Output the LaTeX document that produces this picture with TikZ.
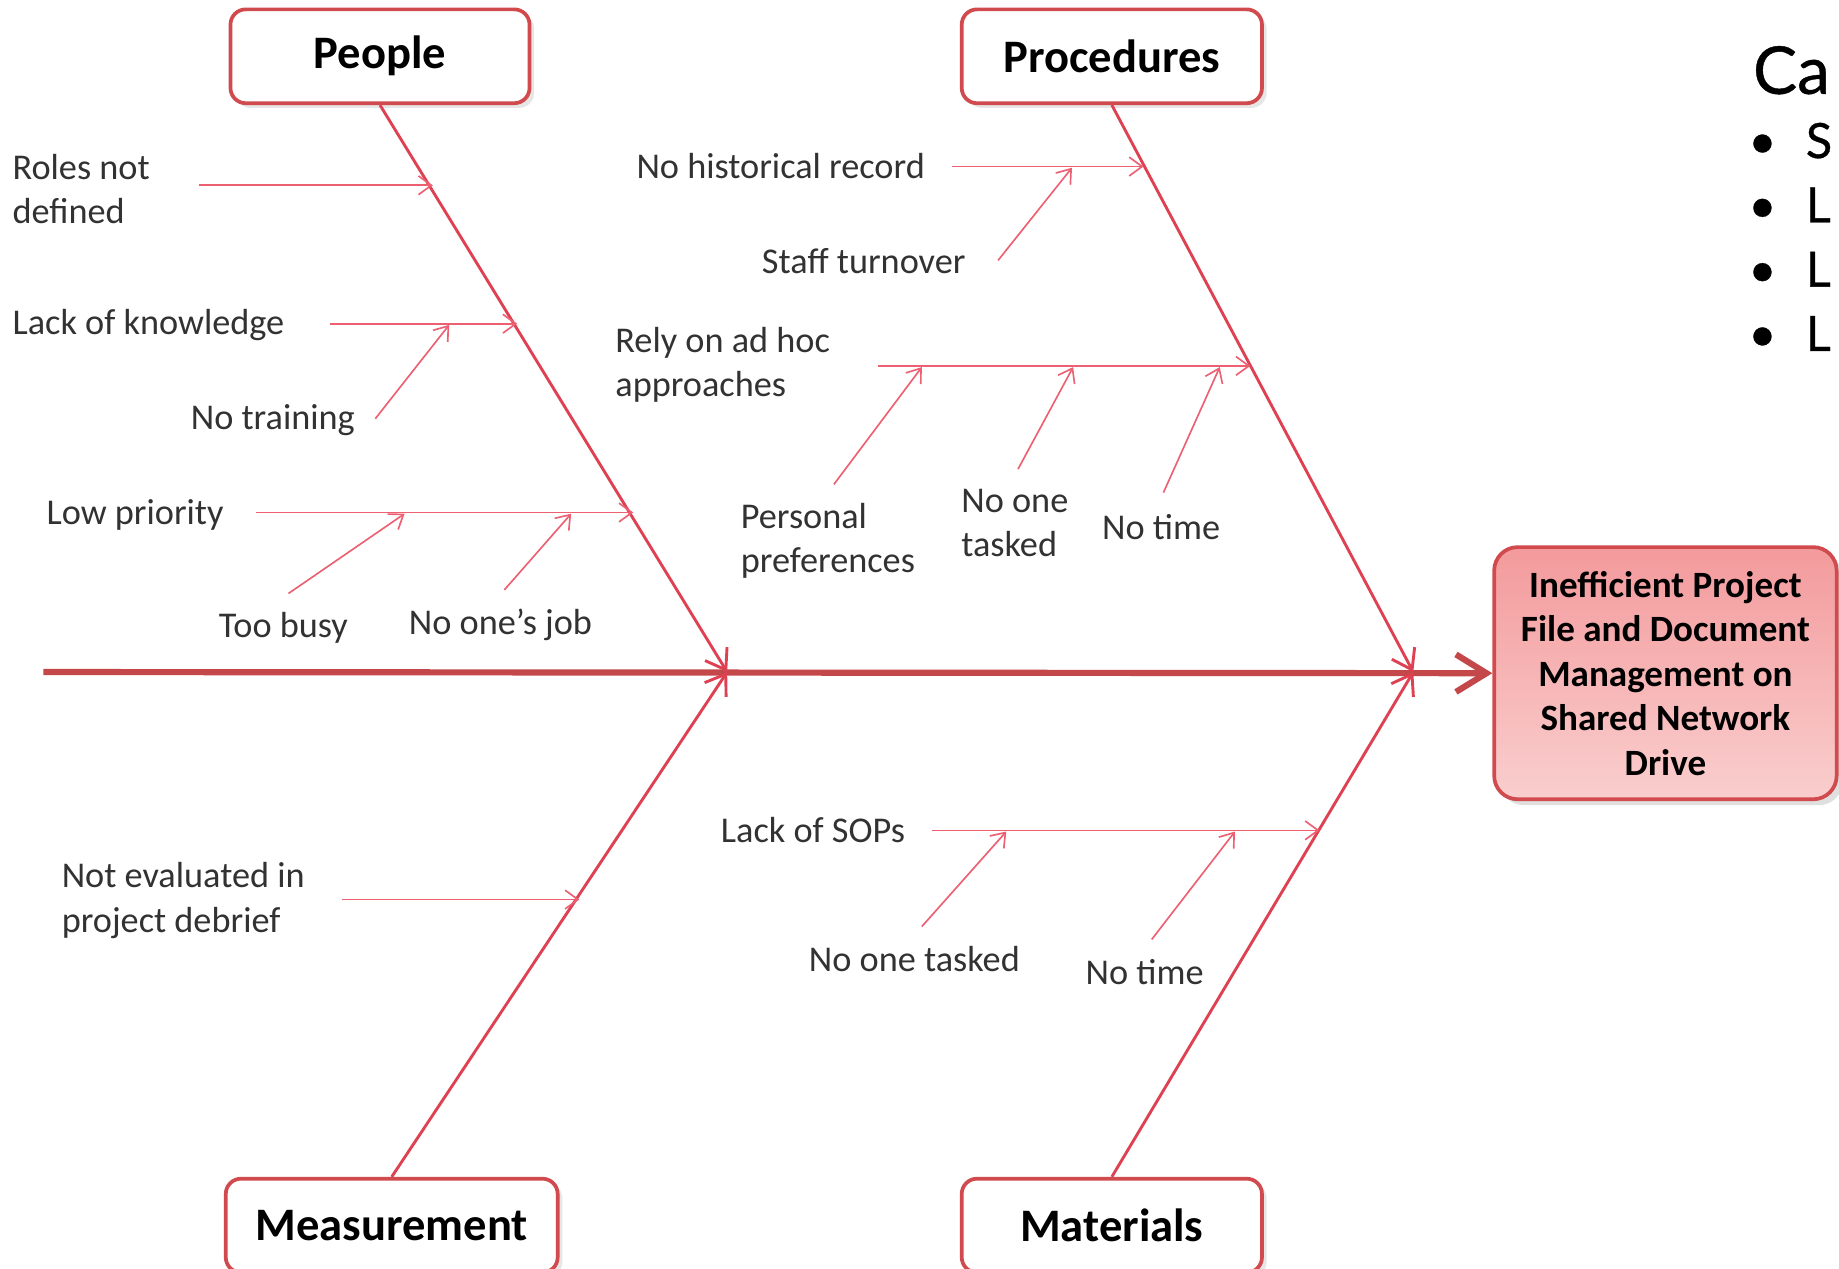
\documentclass[tikz,border=0pt]{standalone}
\usepackage{fontspec}
\setmainfont{Carlito}
\newfontfamily\sidefont[FakeBold=0.6]{Lato}
\usepackage{tikz}
\usetikzlibrary{positioning,calc,arrows.meta,shadows}
\definecolor{spinered}{RGB}{196,72,74}
\definecolor{bonered}{RGB}{222,66,82}
\definecolor{twigred}{RGB}{236,96,114}
\definecolor{boxred}{RGB}{208,74,78}
\definecolor{efftop}{RGB}{243,154,156}
\definecolor{effbot}{RGB}{250,206,206}
\definecolor{textgray}{RGB}{50,50,50}
\tikzset{
  spine/.style={line width=1.5pt,draw=spinered,
    -{Straight Barb[length=2.6mm,width=3.2mm,line width=1.5pt]}},
  bone/.style={line width=0.7pt,draw=bonered,
    -{Straight Barb[length=1.6mm,width=2.2mm]}},
  twig/.style={line width=0.4pt,draw=twigred,
    -{Straight Barb[length=1.1mm,width=1.6mm]}},
  catbox/.style={rectangle,rounded corners=1.3mm,draw=boxred,line width=0.9pt,
    fill=white,minimum width=#1,minimum height=8mm,
    drop shadow={opacity=0.2,shadow xshift=0.4mm,shadow yshift=-0.4mm},
    font=\fontsize{11.3}{13}\selectfont\bfseries},
  effbox/.style={rectangle,rounded corners=2mm,draw=boxred,line width=0.9pt,
    top color=efftop,bottom color=effbot,minimum width=29.2mm,minimum height=21.5mm,
    drop shadow={opacity=0.25,shadow xshift=0.5mm,shadow yshift=-0.5mm},
    align=center,font=\fontsize{9}{10.8}\selectfont\bfseries},
  cause/.style={anchor=west,align=left,inner sep=0pt,text=textgray,
    font=\fontsize{8.8}{10.8}\selectfont}
}

\begin{document}
\begin{tikzpicture}[x=0.1mm,y=-0.1mm]
  \useasboundingbox (0,0) rectangle (1568,1082);

  % categories and effect
  \node [catbox=25.5mm] (peo) at (324,48) {People};
  \node [catbox=25.6mm] (pro) at (948,48) {Procedures};
  \node [catbox=28.3mm] (mea) at (334,1045) {Measurement};
  \node [catbox=25.6mm] (mat) at (948,1045) {Materials};
  \node [effbox] (eff) at (1420,574) {Inefficient Project\\File and Document\\Management on\\Shared Network\\Drive};

  \coordinate (tail) at (37,573);
  \coordinate (jp) at (620,573);
  \coordinate (jr) at (1205,573);

  \draw[spine] (tail) -- (eff.west);
  \path (peo.south) edge[bone] (jp)
        (mea.north) edge[bone] (jp)
        (pro.south) edge[bone] (jr)
        (mat.north) edge[bone] (jr);

  % people
  \node [cause] (roles) at (10,161) {Roles not\\defined};
  \node [cause] (lack) at (10,277) {Lack of knowledge};
  \node [cause] (train) at (162,358) {No training};
  \node [cause] (low) at (39,439) {Low priority};
  \node [cause] (busy) at (186,535) {Too busy};
  \node [cause] (job) at (348,533) {No one’s job};
  \coordinate (roles-a) at (170,158);  \coordinate (roles-b) at (369,158);
  \coordinate (lack-a) at (281,276);   \coordinate (lack-b) at (441,276);
  \coordinate (train-a) at (320,357);  \coordinate (train-b) at (383,277);
  \coordinate (low-a) at (218,437);    \coordinate (low-b) at (540,437);
  \coordinate (busy-a) at (246,506);   \coordinate (busy-b) at (345,438);
  \coordinate (job-a) at (430,503);    \coordinate (job-b) at (487,438);
  \path (roles-a) edge[twig] (roles-b)
        (lack-a) edge[twig] (lack-b)
        (train-a) edge[twig] (train-b)
        (low-a) edge[twig] (low-b)
        (busy-a) edge[twig] (busy-b)
        (job-a) edge[twig] (job-b);

  % procedures
  \node [cause] (hist) at (542,142) {No historical record};
  \node [cause] (staff) at (649,223) {Staff turnover};
  \node [cause] (adhoc) at (524,311) {Rely on ad hoc\\approaches};
  \node [cause] (pers) at (631,461) {Personal\\preferences};
  \node [cause] (tasked) at (819,446) {No one\\tasked};
  \node [cause] (ntime) at (939,449) {No time};
  \coordinate (hist-a) at (812,142);   \coordinate (hist-b) at (975,142);
  \coordinate (staff-a) at (851,222);  \coordinate (staff-b) at (914,143);
  \coordinate (adhoc-a) at (749,312);  \coordinate (adhoc-b) at (1066,312);
  \coordinate (pers-a) at (711,413);   \coordinate (pers-b) at (786,313);
  \coordinate (tasked-a) at (868,400); \coordinate (tasked-b) at (915,313);
  \coordinate (ntime-a) at (992,420);  \coordinate (ntime-b) at (1040,313);
  \path (hist-a) edge[twig] (hist-b)
        (staff-a) edge[twig] (staff-b)
        (adhoc-a) edge[twig] (adhoc-b)
        (pers-a) edge[twig] (pers-b)
        (tasked-a) edge[twig] (tasked-b)
        (ntime-a) edge[twig] (ntime-b);

  % measurement
  \node [cause] (eval) at (52,768) {Not evaluated in\\project debrief};
  \coordinate (eval-a) at (292,767);   \coordinate (eval-b) at (494,767);
  \draw[twig] (eval-a) -- (eval-b);

  % materials
  \node [cause] (sops) at (614,708) {Lack of SOPs};
  \node [cause] (tasked2) at (689,818) {No one tasked};
  \node [cause] (ntime2) at (925,829) {No time};
  \coordinate (sops-a) at (795,708);    \coordinate (sops-b) at (1125,708);
  \coordinate (tasked2-a) at (786,790); \coordinate (tasked2-b) at (858,709);
  \coordinate (ntime2-a) at (982,801);  \coordinate (ntime2-b) at (1053,709);
  \path (sops-a) edge[twig] (sops-b)
        (tasked2-a) edge[twig] (tasked2-b)
        (ntime2-a) edge[twig] (ntime2-b);

  % side text, cut at the edge
  \node [anchor=base west,inner sep=0pt,font=\sidefont\fontsize{16}{18}\selectfont] (side) at (1494,80) {Ca};
  \node [anchor=north west,inner sep=0pt,align=left,font=\sidefont\fontsize{11.8}{15.6}\selectfont] (sidelist) at (1490,104)
    {\textbullet\hspace{2.5mm}S\\\textbullet\hspace{2.5mm}L\\\textbullet\hspace{2.5mm}L\\\textbullet\hspace{2.5mm}L};
\end{tikzpicture}
\end{document}
